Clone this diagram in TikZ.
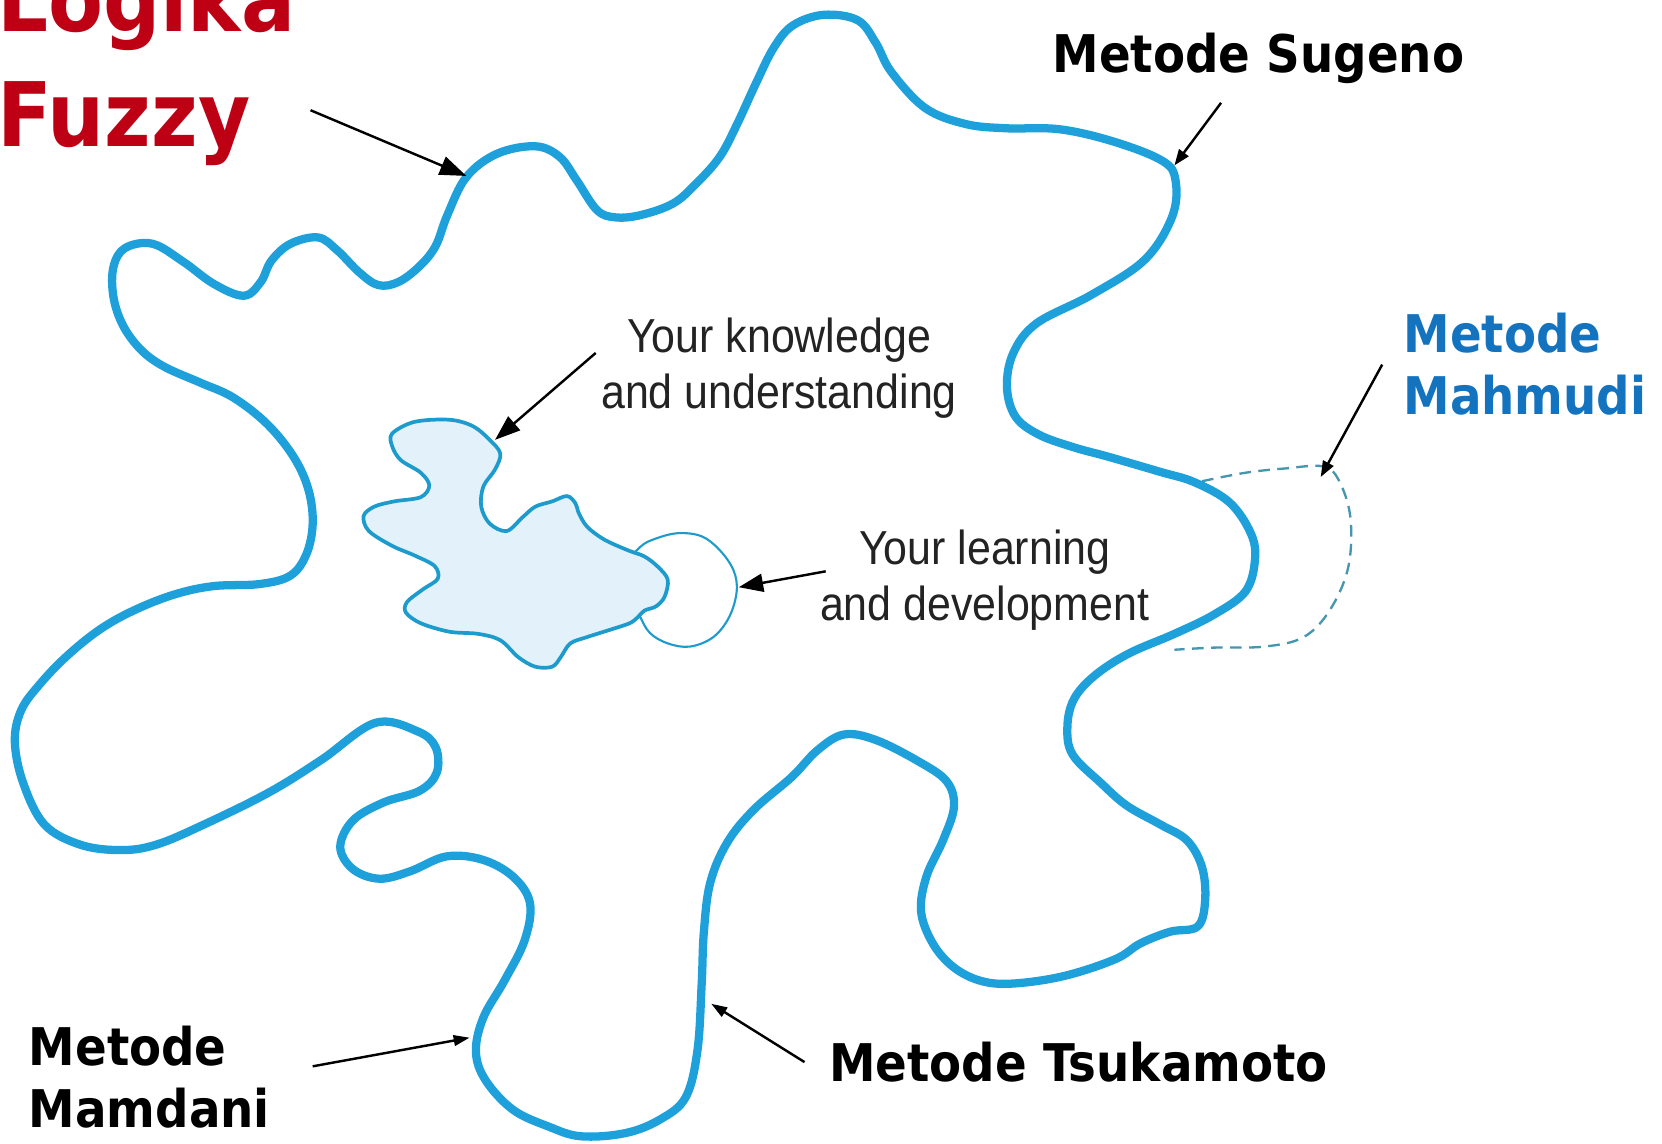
\documentclass[tikz,border=0pt]{standalone}
\usepackage{fontspec}
\usetikzlibrary{arrows.meta}
\newfontfamily\labelfont[FakeStretch=0.9]{DejaVu Sans}
\newfontfamily\innerfont[FakeStretch=0.9]{Liberation Sans}
\definecolor{outline}{RGB}{30,160,218}
\definecolor{blobfill}{RGB}{226,241,250}
\definecolor{blobline}{RGB}{30,155,205}
\definecolor{dashline}{RGB}{70,150,175}
\definecolor{logred}{RGB}{190,0,20}
\definecolor{mahblue}{RGB}{20,115,190}
\definecolor{innertext}{RGB}{35,35,35}
\tikzset{
  bigtitle/.style={font=\labelfont\bfseries\fontsize{84}{108}\selectfont, text=logred, align=left, inner sep=0pt},
  method/.style={font=\labelfont\bfseries\fontsize{49}{58}\selectfont, text=black, align=left, inner sep=0pt},
  innerlabel/.style={font=\innerfont\fontsize{45}{52}\selectfont, text=innertext, align=center, inner sep=0pt},
  pointer/.style={draw=black, line width=2.3pt, -{Triangle[length=17pt,width=13pt]}},
}
\begin{document}
\begin{tikzpicture}[x=1pt,y=-1pt]
\useasboundingbox (0,0) rectangle (1568,1079);
\fill[white] (0,0) rectangle (1568,1079);

% dashed Mahmudi extension
\draw[dashline, line width=2.2pt, dash pattern=on 11pt off 7pt]
  plot[smooth, tension=0.6] coordinates {(1134,454) (1175,446) (1212,442) (1248,440) (1263,453) (1274,488) (1272,535) (1255,575) (1230,601) (1193,610) (1145,611) (1108,613)};

% outer outline
\draw[outline, line width=7.8pt, line join=round]
  plot[smooth cycle, tension=0.6] coordinates {
  (440,167) (469,145) (505,138) (528,148) (544,170) (563,198) (580,205) (604,203)
  (635,192) (657,173) (679,148) (695,118) (713,79) (730,45) (748,24) (777,14)
  (809,19) (826,40) (841,68) (873,102) (911,117) (949,121) (1000,122) (1052,134)
  (1097,152) (1109,170) (1106,204) (1080,245) (1030,278) (978,305) (956,333)
  (950,365) (958,393) (980,410) (1013,422) (1046,431) (1094,445) (1127,455)
  (1160,474) (1180,503) (1184,528) (1175,558) (1145,580) (1108,598) (1064,617)
  (1032,638) (1013,660) (1007,686) (1012,712) (1039,739) (1063,760) (1095,778)
  (1120,793) (1134,818) (1137,849) (1130,874) (1104,879) (1076,890) (1052,905)
  (1003,921) (954,928) (924,925) (899,912) (880,890) (869,860) (874,827)
  (890,792) (900,761) (893,737) (866,718) (826,698) (796,693) (771,708)
  (747,733) (711,764) (686,795) (670,833) (664,880) (662,928) (658,991)
  (647,1035) (623,1056) (590,1069) (548,1072) (518,1063) (484,1047) (458,1019)
  (449,992) (456,960) (476,925) (495,887) (500,852) (484,827) (455,811)
  (421,808) (387,822) (358,829) (333,820) (321,799) (333,774) (362,757)
  (396,746) (412,729) (411,705) (394,690) (354,682) (303,717) (253,748)
  (190,779) (147,797) (114,802) (76,797) (42,778) (22,739) (14,700) (20,670)
  (38,645) (63,619) (94,594) (126,576) (164,561) (201,553) (245,551) (274,543)
  (289,523) (295,494) (291,462) (277,431) (252,400) (220,375) (189,361)
  (155,346) (133,330) (116,307) (107,280) (107,252) (118,234) (144,230)
  (173,247) (202,268) (230,279) (246,266) (256,246) (274,230) (300,224)
  (318,236) (339,257) (357,269) (376,266) (396,251) (411,232) (422,203) };

% learning circle
\draw[blobline, line width=2pt, fill=white]
  plot[smooth cycle, tension=0.6] coordinates {(590,535) (604,516) (619,508) (640,503) (662,506) (679,519) (692,538) (695,558) (688,582) (673,601) (651,610) (630,607) (613,597) (603,580) (594,560)};

% knowledge blob
\draw[blobline, line width=3.5pt, fill=blobfill, line join=round]
  plot[smooth cycle, tension=0.55] coordinates {
  (370,409) (391,398) (424,396) (446,402) (462,415) (472,428) (467,443) (456,459)
  (454,478) (462,494) (478,501) (493,488) (505,478) (521,473) (535,468) (543,475)
  (546,484) (554,497) (570,509) (592,519) (608,525) (621,535) (630,547) (627,563)
  (619,572) (608,576) (602,582) (594,588) (576,594) (554,601) (538,607) (529,620)
  (521,629) (505,629) (489,620) (472,604) (451,598) (424,596) (397,588) (383,578)
  (384,568) (399,556) (413,546) (410,534) (391,524) (370,515) (348,501) (343,487)
  (353,478) (372,473) (397,469) (405,458) (397,446) (378,434) (370,421) };

% texts
\node[bigtitle, anchor=base west] (logika) at (-3,30) {Logika};
\node[bigtitle, anchor=base west] (fuzzy) at (-3,138) {Fuzzy};
\node[method, anchor=base west] (sugeno) at (993,68) {Metode Sugeno};
\node[method, anchor=base west, text=mahblue] (mahmudi1) at (1324,333) {Metode};
\node[method, anchor=base west, text=mahblue] (mahmudi2) at (1324,391) {Mahmudi};
\node[method, anchor=base west] (mamdani1) at (27,1005) {Metode};
\node[method, anchor=base west] (mamdani2) at (27,1064) {Mamdani};
\node[method, anchor=base west] (tsukamoto) at (782,1020) {Metode Tsukamoto};
\node[innerlabel, anchor=base] (know1) at (735,333) {Your knowledge};
\node[innerlabel, anchor=base] (know2) at (735,385) {and understanding};
\node[innerlabel, anchor=base] (learn1) at (929,533) {Your learning};
\node[innerlabel, anchor=base] (learn2) at (929,585) {and development};

% arrow ends
\coordinate (logikaT) at (293,104);
\coordinate (logikaH) at (440,166);
\coordinate (sugenoT) at (1152,97);
\coordinate (sugenoH) at (1108,156);
\coordinate (knowT) at (562,333);
\coordinate (knowH) at (467,415);
\coordinate (learnT) at (779,539);
\coordinate (learnH) at (697,554);
\coordinate (mahT) at (1304,344);
\coordinate (mahH) at (1246,450);
\coordinate (mamT) at (295,1006);
\coordinate (mamH) at (443,979);
\coordinate (tsuT) at (759,1002);
\coordinate (tsuH) at (671,947);

\draw[pointer, -{Triangle[length=25pt,width=18pt]}] (logikaT) -- (logikaH);
\draw[pointer, -{Triangle[length=15pt,width=11pt]}] (sugenoT) -- (sugenoH);
\draw[pointer, -{Triangle[length=24pt,width=17pt]}] (knowT) -- (knowH);
\draw[pointer, -{Triangle[length=23pt,width=17pt]}] (learnT) -- (learnH);
\draw[pointer, -{Triangle[length=15pt,width=11pt]}] (mahT) -- (mahH);
\draw[pointer, -{Triangle[length=15pt,width=10pt]}] (mamT) -- (mamH);
\draw[pointer, -{Triangle[length=15pt,width=10pt]}] (tsuT) -- (tsuH);
\end{tikzpicture}
\end{document}
